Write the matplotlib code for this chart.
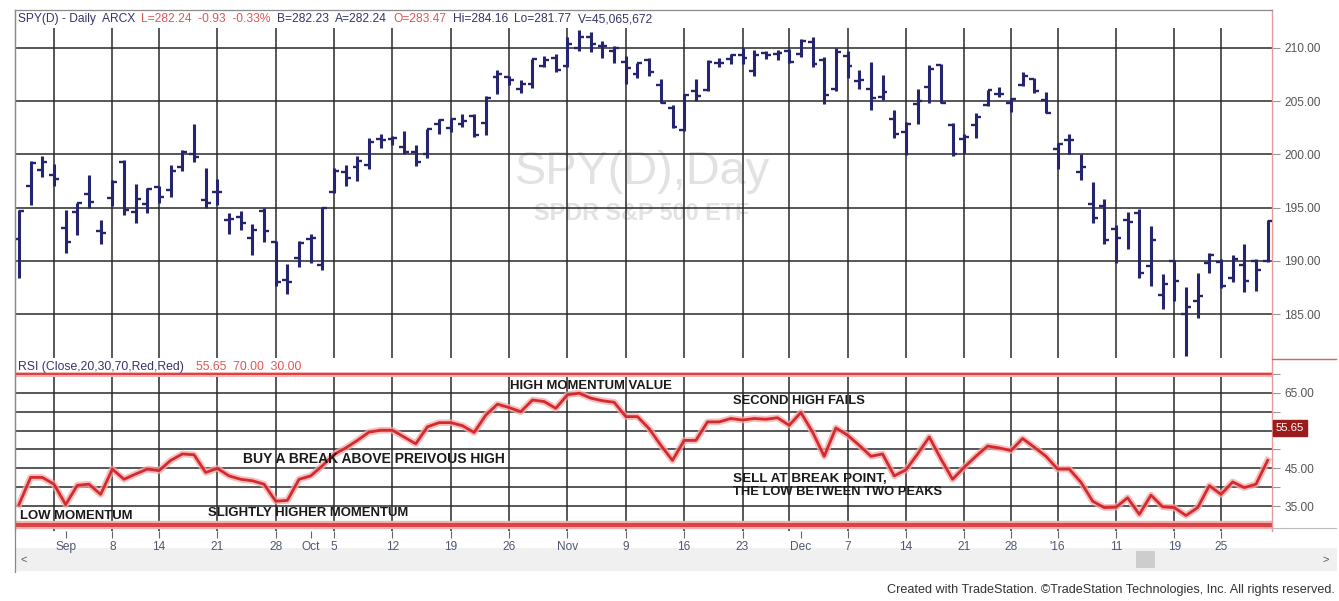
import matplotlib
matplotlib.use('Agg')
import matplotlib.pyplot as plt
from matplotlib import font_manager
from matplotlib.patches import Rectangle
from matplotlib.lines import Line2D
from matplotlib.ticker import FixedLocator, NullFormatter
import matplotlib.transforms as mtrans

W, H = 1339, 601

# ---------------- data (SPY daily, 26 Aug 2015 - 29 Jan 2016) ----------------
opens = [192.08, 197.02, 198.50, 198.11, 193.12, 194.62, 196.26, 192.85, 195.94, 199.32,
         194.56, 195.38, 196.95, 196.61, 198.82, 200.02, 195.71, 196.44, 193.88, 194.11,
         192.15, 194.64, 191.78, 188.24, 190.25, 192.08, 189.57, 196.46, 198.31, 198.79,
         198.97, 201.42, 201.42, 200.65, 200.18, 200.08, 202.83, 202.50, 202.85, 203.61,
         202.98, 207.25, 207.30, 206.19, 206.60, 208.35, 209.06, 208.32, 210.02, 211.00,
         210.23, 209.74, 208.65, 207.51, 208.88, 206.50, 204.35, 202.32, 205.99, 206.04,
         208.59, 208.98, 209.38, 207.87, 209.50, 209.43, 209.75, 209.44, 210.61, 208.83,
         206.10, 209.23, 206.87, 206.19, 205.42, 203.35, 202.07, 204.70, 206.37, 208.40,
         202.77, 201.41, 202.72, 204.69, 205.72, 204.86, 206.51, 207.11, 205.13, 200.49,
         201.40, 198.34, 195.33, 195.19, 193.01, 193.82, 194.45, 189.55, 186.77, 189.96,
         185.03, 186.21, 189.78, 189.92, 188.42, 189.58, 189.96, 190.02]
highs = [194.79, 199.42, 199.84, 199.13, 194.77, 195.46, 198.05, 193.86, 197.61, 199.47,
         197.22, 196.82, 197.01, 198.99, 200.41, 202.89, 198.68, 197.68, 194.46, 194.67,
         193.45, 195.00, 191.91, 189.74, 191.83, 192.49, 195.03, 198.74, 198.98, 199.83,
         201.55, 201.90, 201.76, 202.16, 200.87, 202.36, 203.29, 203.37, 203.84, 203.79,
         205.51, 207.95, 207.37, 207.00, 208.98, 209.27, 209.44, 211.00, 211.65, 211.46,
         210.70, 210.20, 209.28, 208.60, 209.05, 207.06, 204.67, 205.69, 207.04, 208.90,
         209.06, 209.47, 209.98, 209.83, 209.74, 209.80, 209.89, 210.82, 211.00, 209.15,
         209.97, 209.73, 207.94, 208.68, 207.43, 204.14, 203.05, 206.11, 208.39, 208.48,
         202.93, 201.88, 203.85, 206.07, 206.33, 205.26, 207.79, 207.21, 205.89, 201.03,
         201.90, 200.06, 197.44, 195.85, 193.41, 194.55, 194.86, 193.26, 188.76, 190.11,
         187.50, 188.87, 190.76, 190.15, 190.53, 191.56, 190.20, 193.88]
lows = [188.37, 195.21, 197.92, 197.01, 190.73, 192.42, 194.96, 191.61, 195.17, 194.35,
        193.59, 194.53, 195.43, 195.96, 198.41, 199.28, 194.96, 195.21, 192.56, 192.91,
        190.56, 191.81, 187.64, 186.93, 189.44, 189.82, 189.12, 196.33, 197.00, 197.48,
        198.59, 200.58, 200.91, 200.05, 198.94, 199.64, 201.92, 202.13, 202.55, 201.65,
        201.85, 205.65, 206.56, 205.79, 206.21, 208.21, 207.74, 208.23, 209.70, 209.67,
        209.10, 208.56, 206.66, 207.19, 207.40, 204.82, 202.44, 202.18, 205.02, 205.99,
        208.20, 208.54, 208.52, 207.41, 209.01, 208.86, 208.56, 209.11, 208.23, 204.75,
        205.93, 207.20, 206.11, 204.18, 205.14, 201.51, 199.95, 202.87, 204.80, 204.84,
        199.83, 200.09, 201.55, 204.58, 205.42, 203.94, 206.47, 205.76, 203.87, 198.59,
        200.05, 197.60, 193.59, 191.58, 189.82, 191.14, 188.38, 187.66, 185.52, 186.20,
        181.02, 184.64, 188.88, 187.41, 188.02, 187.06, 187.16, 189.88]
closes = [194.68, 199.16, 199.28, 197.67, 191.77, 195.41, 195.55, 192.59, 197.43, 194.79,
          195.85, 196.74, 196.01, 198.46, 200.18, 199.73, 195.45, 196.46, 193.91, 193.60,
          192.90, 192.85, 187.98, 188.01, 191.63, 192.13, 195.00, 198.47, 197.79, 199.41,
          201.21, 201.33, 201.52, 200.25, 199.29, 202.35, 203.27, 203.37, 203.11, 201.85,
          205.26, 207.51, 207.00, 206.60, 208.95, 208.83, 207.93, 210.39, 211.00, 210.36,
          210.15, 210.04, 208.08, 208.56, 207.74, 204.84, 202.54, 205.62, 205.47, 208.73,
          208.55, 209.31, 209.07, 209.35, 209.32, 209.56, 208.69, 210.68, 208.53, 205.61,
          209.62, 208.35, 206.95, 205.34, 205.87, 201.88, 202.90, 205.03, 208.03, 204.86,
          200.02, 201.67, 203.50, 206.02, 205.68, 205.21, 207.40, 205.93, 203.87, 201.02,
          201.36, 198.82, 194.05, 191.92, 192.11, 193.66, 188.83, 191.93, 187.81, 188.06,
          185.65, 186.69, 190.52, 187.64, 190.20, 188.13, 189.11, 193.72]
rsi = [35.4, 42.6, 42.6, 40.8, 35.4, 40.5, 40.8, 38.1, 44.8, 42.1,
       43.5, 44.8, 44.4, 47.1, 48.8, 48.6, 43.9, 45.0, 43.0, 42.1,
       41.7, 40.8, 36.3, 36.5, 42.1, 43.0, 45.7, 48.7, 50.4, 52.4,
       54.6, 55.1, 55.1, 53.3, 51.5, 56.0, 57.1, 57.1, 56.3, 54.5,
       59.1, 62.0, 61.1, 60.0, 63.1, 62.7, 60.9, 64.5, 64.9, 63.6,
       62.9, 62.5, 58.7, 58.7, 55.5, 51.1, 47.1, 52.4, 52.4, 57.3,
       57.3, 58.2, 57.8, 58.2, 58.0, 58.4, 56.4, 59.8, 54.6, 48.2,
       55.7, 53.8, 51.1, 48.2, 48.8, 43.0, 44.6, 48.8, 53.3, 47.5,
       42.1, 45.3, 48.2, 50.9, 50.4, 49.7, 52.9, 50.6, 48.2, 44.8,
       44.8, 41.3, 36.3, 34.6, 34.7, 37.2, 32.8, 37.9, 34.8, 34.6,
       32.5, 34.6, 40.4, 38.1, 41.4, 39.9, 40.8, 47.1]

tick_idx = [4, 8, 12, 17, 22, 25, 27, 32, 37, 42, 47, 52, 57, 62, 67, 71, 76, 81, 85, 89, 94, 99, 103]
tick_labels = ['Sep', '8', '14', '21', '28', 'Oct', '5', '12', '19', '26', 'Nov', '9', '16',
               '23', 'Dec', '7', '14', '21', '28', "'16", '11', '19', '25']
week_idx = [3, 8, 12, 17, 22, 27, 32, 37, 42, 47, 52, 57, 62, 66, 71, 76, 81, 85, 89, 94, 99, 103]
price_ticks = [185, 190, 195, 200, 205, 210]
rsi_labels = [35, 45, 65]
rsi_grid = [35, 40, 45, 50, 55, 60, 65]
rsi_last = 55.65

# ---------------- fonts ----------------
names = {f.name for f in font_manager.fontManager.ttflist}
NARROW = 'Liberation Sans Narrow' if 'Liberation Sans Narrow' in names else 'Liberation Sans'
SANS = 'Liberation Sans'
plt.rcParams['font.family'] = [SANS, 'DejaVu Sans']

fig = plt.figure(figsize=(W / 100, H / 100), dpi=100)
fig.patch.set_facecolor('white')


def fx(x):
    return x / W


def fy(y):
    return 1 - y / H


LEFT, RIGHT = 15, 1272
ax1 = fig.add_axes([fx(LEFT), fy(358), (RIGHT - LEFT) / W, (358 - 10) / H])
ax2 = fig.add_axes([fx(LEFT), fy(531), (RIGHT - LEFT) / W, (531 - 360) / H])

n = len(closes)
xs = list(range(n))
XL = (-0.34, 107.37)
GRID = '#2a2a2a'
BAR = '#25256f'

# ---------------- price panel ----------------
ax1.set_xlim(*XL)
ax1.set_ylim(180.87, 213.57)
ax1.hlines(price_ticks, XL[0], XL[1], color=GRID, lw=1.1, zorder=1)
ax1.vlines(week_idx, 180.87, 211.9, color=GRID, lw=1.1, zorder=1)
ax1.vlines(xs, lows, highs, color=BAR, lw=2.2, zorder=3)
ax1.hlines(opens, [x - 0.42 for x in xs], xs, color=BAR, lw=1.7, zorder=3)
ax1.hlines(closes, xs, [x + 0.42 for x in xs], color=BAR, lw=1.7, zorder=3)
ax1.set_xticks([])
ax1.yaxis.tick_right()
ax1.set_yticks(price_ticks)
ax1.set_yticklabels(['%.2f' % v for v in price_ticks])
ax1.tick_params(axis='y', direction='out', length=6, width=0.8, color='#999999',
                labelsize=8.6, labelcolor='#555555', pad=3)
for s in ['top', 'left']:
    ax1.spines[s].set_color('#8a8a8a')
    ax1.spines[s].set_linewidth(0.9)
ax1.spines['bottom'].set_visible(False)
ax1.spines['right'].set_color('#e59a9a')
ax1.spines['right'].set_linewidth(1.0)

# ---------------- RSI panel ----------------
ax2.set_xlim(*XL)
ax2.set_ylim(28.4, 73.7)
ax2.hlines(rsi_grid, XL[0], XL[1], color=GRID, lw=1.1, zorder=1)
ax2.vlines(week_idx, 28.4, 70, color=GRID, lw=1.1, zorder=1)
ax2.axhline(70, color='#f4b6b6', lw=3.6, zorder=2)
ax2.axhline(70, color='#df3d3d', lw=1.4, zorder=2.1)
ax2.axhline(30, color='#f3b0b0', lw=6.0, zorder=2)
ax2.axhline(30, color='#dc4444', lw=2.9, zorder=2.1)
ax2.plot(xs, rsi, color='#f5a8a8', lw=4.8, alpha=0.75, solid_joinstyle='round', zorder=4)
ax2.plot(xs, rsi, color='#d42a2e', lw=2.0, solid_joinstyle='round', zorder=5)
ax2.set_xticks(tick_idx)
ax2.set_xticklabels(tick_labels)
ax2.tick_params(axis='x', direction='out', length=5, width=0.8, color='#666666',
                labelsize=8.6, labelcolor='#4f5872', pad=2)
ax2.yaxis.tick_right()
ax2.yaxis.set_major_locator(FixedLocator(rsi_labels))
ax2.set_yticklabels(['%.2f' % v for v in rsi_labels])
ax2.yaxis.set_minor_locator(FixedLocator([40, 50, 55, 60, 70]))
ax2.yaxis.set_minor_formatter(NullFormatter())
ax2.tick_params(axis='y', which='both', direction='out', length=6, width=0.8, color='#999999',
                labelsize=8.6, labelcolor='#555555', pad=3)
ax2.spines['left'].set_color('#8a8a8a')
ax2.spines['left'].set_linewidth(0.9)
ax2.spines['top'].set_visible(False)
ax2.spines['bottom'].set_visible(False)
ax2.spines['right'].set_color('#e59a9a')
ax2.spines['right'].set_linewidth(1.0)

# current value box
trans = mtrans.blended_transform_factory(ax2.transAxes, ax2.transData)
ax2.text(1.003, rsi_last, '%.2f' % rsi_last, transform=trans, ha='left', va='center',
         fontsize=8.2, color='white', zorder=10,
         bbox=dict(boxstyle='square,pad=0.28', facecolor='#9b1b1b', edgecolor='#9b1b1b'))

renderer = fig.canvas.get_renderer()


def fit(parent, x, y, s, width, ha='left', va='center', **kw):
    if parent is fig:
        t = fig.text(fx(x), fy(y), s, ha=ha, va=va, **kw)
    else:
        t = parent.text(fx(x), fy(y), s, ha=ha, va=va, transform=fig.transFigure, **kw)
    bb = t.get_window_extent(renderer)
    t.set_fontsize(t.get_fontsize() * width / bb.width)
    return t


def row(x0, x1, y, segs, gap_em=0.55, fs=7.5):
    """Lay out coloured text segments one after another, scaled to span x0..x1."""
    texts = [fig.text(0, fy(y), s, ha='left', va='center', fontsize=fs, color=c,
                      family=[NARROW, 'DejaVu Sans']) for s, c in segs]
    widths = [t.get_window_extent(renderer).width for t in texts]
    gap = gap_em * fs * 100 / 72
    total = sum(widths) + gap * (len(segs) - 1)
    k = (x1 - x0) / total
    x = x0
    for t, w in zip(texts, widths):
        t.set_fontsize(fs * k)
        t.set_x(fx(x))
        x += (w + gap) * k


# watermark
fit(ax1, 643, 172, 'SPY(D),Day', 255, ha='center', fontsize=30, color='#e2e2e2', zorder=0.5)
fit(ax1, 642, 214, 'SPDR S&P 500 ETF', 214, ha='center', fontsize=12, color='#e2e2e2',
    fontweight='bold', zorder=0.5)

# header of price panel
DARK = '#34346c'
RED = '#e25555'
row(18, 652, 19, [('SPY(D) - Daily  ARCX', DARK),
                  ('L=282.24  -0.93  -0.33%', RED),
                  ('B=282.23', DARK),
                  ('A=282.24', DARK),
                  ('O=283.47', RED),
                  ('Hi=284.16', DARK),
                  ('Lo=281.77', DARK),
                  ('V=45,065,672', DARK)])

# header of RSI panel
row(18, 300, 367, [('RSI (Close,20,30,70,Red,Red)', DARK),
                   ('55.65  70.00  30.00', RED)], gap_em=1.0)

# annotations
notes = [(20, 516, 'LOW MOMENTUM', 113),
         (208, 513, 'SLIGHTLY HIGHER MOMENTUM', 200),
         (243, 459, 'BUY A BREAK ABOVE PREIVOUS HIGH', 261),
         (510, 386, 'HIGH MOMENTUM VALUE', 162),
         (733, 401, 'SECOND HIGH FAILS', 133),
         (733, 479, 'SELL AT BREAK POINT,', 153),
         (733, 492, 'THE LOW BETWEEN TWO PEAKS', 210)]
for x, y, s, w in notes:
    fit(ax2, x, y, s, w, fontsize=8, color='#1a1a1a', fontweight='bold', zorder=8,
        family=[NARROW, 'DejaVu Sans'])

# right-side separators in axis area
fig.add_artist(Line2D([fx(RIGHT), fx(1336)], [fy(359), fy(359)], color='#e06060', lw=1.0))
fig.add_artist(Line2D([fx(RIGHT), fx(1336)], [fy(528), fy(528)], color='#bbbbbb', lw=0.8))
# left frame line down to scrollbar
fig.add_artist(Line2D([fx(LEFT), fx(LEFT)], [fy(10), fy(572)], color='#8a8a8a', lw=0.9))

# scrollbar
fig.add_artist(Rectangle((fx(LEFT + 1), fy(571)), (1336 - LEFT) / W, 23 / H,
                         facecolor='#f0f0f0', edgecolor='none', transform=fig.transFigure,
                         zorder=0))
fig.add_artist(Rectangle((fx(1136), fy(568)), 19 / W, 17 / H,
                         facecolor='#cdcdcd', edgecolor='none', transform=fig.transFigure))
fig.text(fx(24), fy(560), '<', ha='center', va='center', fontsize=8, color='#555555')
fig.text(fx(1326), fy(560), '>', ha='center', va='center', fontsize=8, color='#555555')

# footer
fit(fig, 1335, 590, 'Created with TradeStation. \u00a9TradeStation Technologies, Inc. All rights reserved.',
    450, ha='right', fontsize=8, color='#333333', family=[NARROW, 'DejaVu Sans'])

fig.savefig('out.png', dpi=100, facecolor='white')
